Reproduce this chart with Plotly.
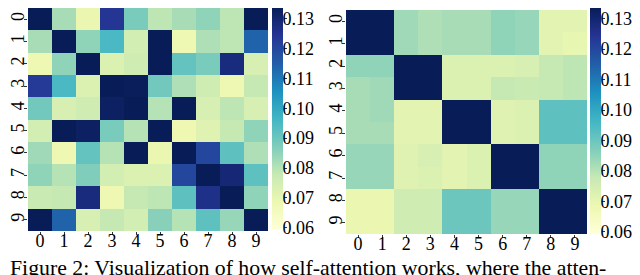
import plotly.graph_objects as go

labels = [0, 1, 2, 3, 4, 5, 6, 7, 8, 9]
tick_vals = [0.06, 0.07, 0.08, 0.09, 0.10, 0.11, 0.12, 0.13]
tick_text = ["0.06", "0.07", "0.08", "0.09", "0.10", "0.11", "0.12", "0.13"]

left_values = [
    [0.140, 0.082, 0.069, 0.124, 0.088, 0.079, 0.082, 0.085, 0.079, 0.140],
    [0.082, 0.140, 0.085, 0.095, 0.075, 0.140, 0.068, 0.081, 0.079, 0.114],
    [0.068, 0.085, 0.140, 0.073, 0.076, 0.140, 0.091, 0.088, 0.128, 0.074],
    [0.123, 0.095, 0.073, 0.140, 0.133, 0.089, 0.081, 0.076, 0.068, 0.078],
    [0.089, 0.074, 0.076, 0.132, 0.140, 0.080, 0.140, 0.074, 0.079, 0.074],
    [0.075, 0.140, 0.132, 0.088, 0.080, 0.140, 0.068, 0.072, 0.078, 0.085],
    [0.083, 0.068, 0.091, 0.080, 0.140, 0.069, 0.140, 0.120, 0.092, 0.081],
    [0.085, 0.080, 0.087, 0.075, 0.073, 0.073, 0.120, 0.140, 0.129, 0.092],
    [0.077, 0.078, 0.128, 0.068, 0.078, 0.079, 0.092, 0.126, 0.140, 0.085],
    [0.140, 0.114, 0.074, 0.078, 0.075, 0.086, 0.080, 0.092, 0.084, 0.140],
]

right_values = [
    [0.140, 0.140, 0.083, 0.081, 0.082, 0.082, 0.085, 0.084, 0.071, 0.071],
    [0.140, 0.140, 0.083, 0.081, 0.082, 0.082, 0.085, 0.084, 0.071, 0.070],
    [0.085, 0.085, 0.140, 0.140, 0.073, 0.073, 0.073, 0.074, 0.078, 0.079],
    [0.082, 0.083, 0.140, 0.140, 0.073, 0.073, 0.078, 0.077, 0.078, 0.079],
    [0.082, 0.083, 0.071, 0.071, 0.140, 0.140, 0.072, 0.073, 0.092, 0.092],
    [0.082, 0.082, 0.071, 0.071, 0.140, 0.140, 0.072, 0.073, 0.092, 0.092],
    [0.084, 0.084, 0.072, 0.074, 0.071, 0.073, 0.140, 0.140, 0.085, 0.085],
    [0.084, 0.084, 0.072, 0.073, 0.071, 0.073, 0.140, 0.140, 0.085, 0.085],
    [0.069, 0.069, 0.076, 0.076, 0.090, 0.090, 0.084, 0.084, 0.140, 0.140],
    [0.069, 0.069, 0.076, 0.076, 0.090, 0.090, 0.084, 0.084, 0.140, 0.140],
]

caption = "Figure 2: Visualization of how self-attention works, where the atten-"

W, H = 640, 275
FONT = "Liberation Serif"
ZMIN, ZMAX = 0.0593, 0.1335
CB_THICK = 11


def cbar(x0, bottom):
    # colour strip only; its value scale is drawn by a matching y axis below
    return dict(
        x=x0 / W, xanchor="left", xpad=0, ypad=0,
        y=1, yanchor="top", len=bottom / H, lenmode="fraction",
        thickness=CB_THICK, thicknessmode="pixels", outlinewidth=0,
        showticklabels=False, ticks="",
    )


fig = go.Figure()
fig.add_trace(go.Heatmap(
    z=left_values, x=labels, y=labels, colorscale="YlGnBu",
    zmin=ZMIN, zmax=ZMAX, xaxis="x", yaxis="y", colorbar=cbar(264, 222),
))
fig.add_trace(go.Heatmap(
    z=right_values, x=labels, y=labels, colorscale="YlGnBu",
    zmin=ZMIN, zmax=ZMAX, xaxis="x2", yaxis="y2", colorbar=cbar(582, 226),
))
# invisible carriers so the colour-scale axes are drawn
for xa, ya in (("x3", "y3"), ("x4", "y4")):
    fig.add_trace(go.Scatter(
        x=[0.5, 0.5], y=[ZMIN, ZMAX], mode="markers",
        marker=dict(size=1, opacity=0), hoverinfo="skip", showlegend=False,
        xaxis=xa, yaxis=ya,
    ))

axis_common = dict(
    showgrid=False, zeroline=False, showline=False, automargin=False,
    ticks="outside", ticklen=3, tickcolor="#333",
    tickfont=dict(family=FONT, size=18, color="black"),
    tickmode="array", tickvals=labels, ticktext=[str(v) for v in labels],
)

scale_axis = dict(
    showgrid=False, zeroline=False, showline=False, automargin=False,
    ticks="outside", ticklen=3, tickcolor="#333", side="right",
    tickfont=dict(family=FONT, size=18, color="black"),
    tickmode="array", tickvals=tick_vals, ticktext=tick_text,
    range=[ZMIN, ZMAX], fixedrange=True, ticklabelstandoff=-8,
)
strip_x = dict(visible=False, range=[0, 1], fixedrange=True)

fig.update_layout(
    width=W, height=H,
    margin=dict(l=0, r=0, t=0, b=0, autoexpand=False),
    paper_bgcolor="white", plot_bgcolor="rgba(0,0,0,0)",
    xaxis=dict(domain=[20 / W, 260 / W], anchor="y", ticklabelstandoff=-10, **axis_common),
    yaxis=dict(domain=[1 - 223 / H, 1], anchor="x", autorange="reversed",
               tickangle=-90, ticklabelstandoff=-7, **axis_common),
    xaxis2=dict(domain=[338 / W, 579 / W], anchor="y2", ticklabelstandoff=-10, **axis_common),
    yaxis2=dict(domain=[1 - 226 / H, 1 - 2 / H], anchor="x2", autorange="reversed",
                tickangle=-90, ticklabelstandoff=-7, **axis_common),
    xaxis3=dict(domain=[264 / W, (264 + CB_THICK) / W], anchor="y3", **strip_x),
    yaxis3=dict(domain=[1 - 222 / H, 1], anchor="x3", **scale_axis),
    xaxis4=dict(domain=[582 / W, (582 + CB_THICK) / W], anchor="y4", **strip_x),
    yaxis4=dict(domain=[1 - 226 / H, 1], anchor="x4", **scale_axis),
    annotations=[dict(
        text=caption, x=0, xanchor="left", xref="paper",
        y=(H - 260) / H, yanchor="middle", yref="paper", showarrow=False,
        font=dict(family=FONT, size=21.8, color="black"),
    )],
)

fig.write_html("out.html")
